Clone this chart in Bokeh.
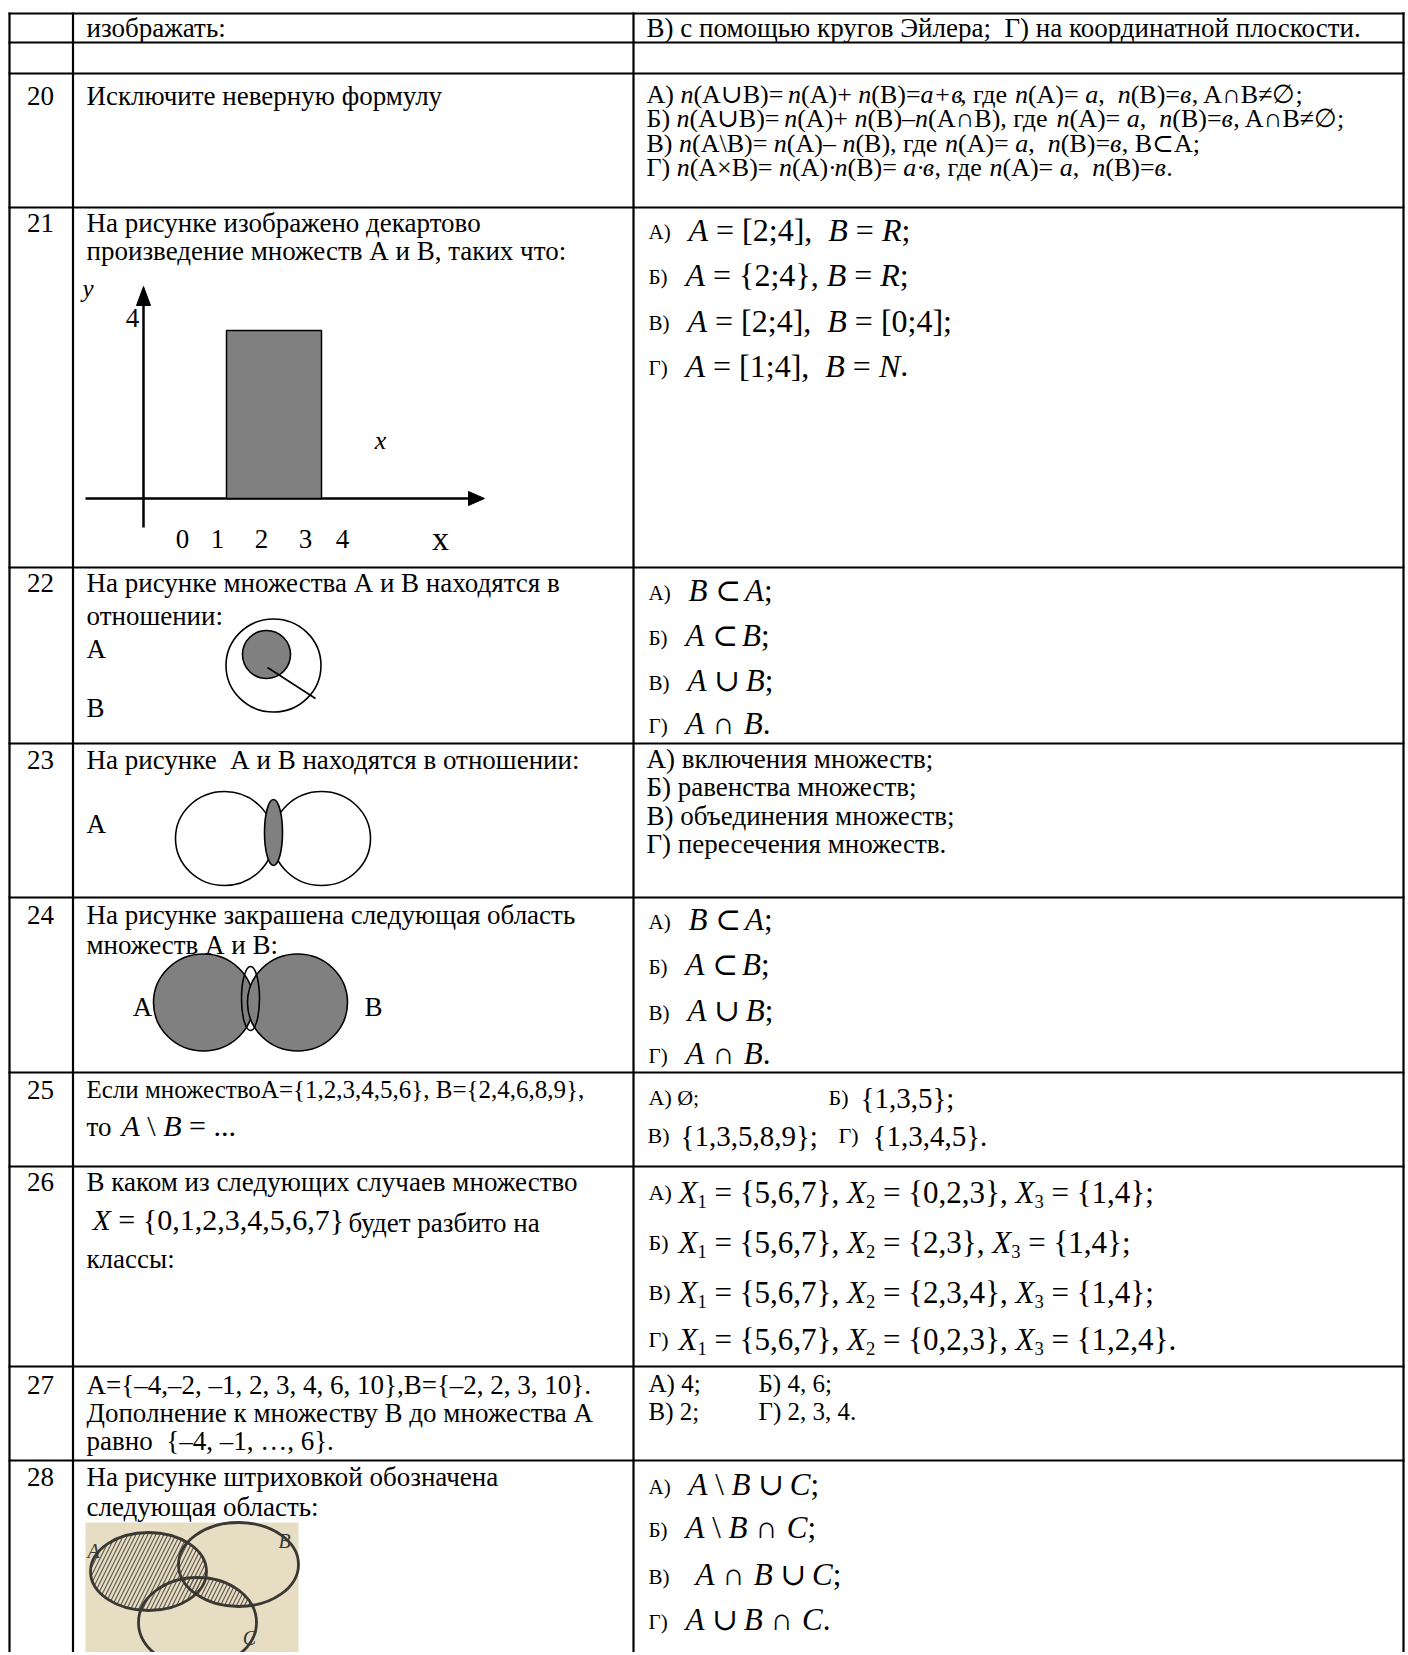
import re
import numpy as np
from bokeh.plotting import figure
from bokeh.models import Range1d, ColumnDataSource
from bokeh.embed import file_html
from bokeh.resources import INLINE
from bokeh.core.properties import value

# ---------------- content ----------------
row_numbers = ["20", "21", "22", "23", "24", "25", "26", "27", "28"]
top_left = "изображать:"
top_right = "В) с помощью кругов Эйлера;  Г) на координатной плоскости."
q20 = ["Исключите неверную формулу"]
q21 = ["На рисунке изображено декартово", "произведение множеств А и В, таких что:"]
q22 = ["На рисунке множества А и В находятся в", "отношении:"]
q23 = ["На рисунке  А и В находятся в отношении:"]
q24 = ["На рисунке закрашена следующая область", "множеств А и В:"]
q25 = ["Если множествоA={1,2,3,4,5,6}, B={2,4,6,8,9},", "то", "*A* \\ *B* = ..."]
q26 = ["В каком из следующих случаев множество", "*X* = {0,1,2,3,4,5,6,7}", "будет разбито на", "классы:"]
q27 = ["A={–4,–2, –1, 2, 3, 4, 6, 10},B={–2, 2, 3, 10}.",
       "Дополнение к множеству В до множества А",
       "равно  {–4, –1, …, 6}."]
q28 = ["На рисунке штриховкой обозначена", "следующая область:"]

a20 = ["А) *n*(A∪B)= *n*(A)+ *n*(B)=*a+в*, где *n*(A)= *a*,  *n*(B)=*в*, A∩B≠∅;",
       "Б) *n*(A∪B)= *n*(A)+ *n*(B)–*n*(A∩B), где *n*(A)= *a*,  *n*(B)=*в*, A∩B≠∅;",
       "В) *n*(A\\B)= *n*(A)– *n*(B), где *n*(A)= *a*,  *n*(B)=*в*, B⊂A;",
       "Г) *n*(A×B)= *n*(A)·*n*(B)= *a*·*в*, где *n*(A)= *a*,  *n*(B)=*в*."]
labels = ["А)", "Б)", "В)", "Г)"]
a21 = ["*A* = [2;4],  *B* = *R*;", "*A* = {2;4}, *B* = *R*;",
       "*A* = [2;4],  *B* = [0;4];", "*A* = [1;4],  *B* = *N*."]
a22 = ["*B* ⊂ *A*;", "*A* ⊂ *B*;", "*A* ∪ *B*;", "*A* ∩ *B*."]
a23 = ["А) включения множеств;", "Б) равенства множеств;",
       "В) объединения множеств;", "Г) пересечения множеств."]
a24 = a22
a25 = [("А) Ø;", ""), ("Б)", "{1,3,5};"), ("В)", "{1,3,5,8,9};"), ("Г)", "{1,3,4,5}.")]
a26 = ["*X*~1~ = {5,6,7}, *X*~2~ = {0,2,3}, *X*~3~ = {1,4};",
       "*X*~1~ = {5,6,7}, *X*~2~ = {2,3}, *X*~3~ = {1,4};",
       "*X*~1~ = {5,6,7}, *X*~2~ = {2,3,4}, *X*~3~ = {1,4};",
       "*X*~1~ = {5,6,7}, *X*~2~ = {0,2,3}, *X*~3~ = {1,2,4}."]
a27 = ["А) 4;", "Б) 4, 6;", "В) 2;", "Г) 2, 3, 4."]
a28 = ["*A* \\ *B* ∪ *C*;", "*A* \\ *B* ∩ *C*;", "*A* ∩ *B* ∪ *C*;", "*A* ∪ *B* ∩ *C*."]
axis_ticks = ["0", "1", "2", "3", "4"]

# ---------------- helpers ----------------
FONT = "'Liberation Serif', 'DejaVu Serif', serif"
REG = {c: 0.5 for c in "0123456789"}
REG.update({' ': 0.25, '\u00a0': 0.25, '!': 0.333, '(': 0.333, ')': 0.333, '+': 0.564, ',': 0.25,
            '-': 0.333, '.': 0.25, '/': 0.278, ':': 0.278, ';': 0.278, '=': 0.564, '[': 0.333,
            ']': 0.333, '{': 0.48, '}': 0.48, '\\': 0.278, '–': 0.5, '…': 1.0, '·': 0.25,
            '×': 0.564, '∪': 0.77, '∩': 0.77, '⊂': 0.71, '≠': 0.549, '∅': 0.71, 'Ø': 0.722,
            'A': 0.722, 'B': 0.667, 'C': 0.667, 'N': 0.722, 'R': 0.667, 'X': 0.722,
            'a': 0.444, 'n': 0.5, 'x': 0.5, 'y': 0.5,
            'А': 0.722, 'Б': 0.574, 'В': 0.667, 'Г': 0.578, 'Д': 0.682, 'Е': 0.611, 'И': 0.722,
            'К': 0.667, 'Н': 0.722, 'Э': 0.66, 'Х': 0.722,
            'а': 0.444, 'б': 0.509, 'в': 0.472, 'г': 0.41, 'д': 0.509, 'е': 0.444, 'ж': 0.691,
            'з': 0.395, 'и': 0.535, 'й': 0.535, 'к': 0.486, 'л': 0.499, 'м': 0.633, 'н': 0.535,
            'о': 0.5, 'п': 0.535, 'р': 0.5, 'с': 0.444, 'т': 0.437, 'у': 0.5, 'ф': 0.648,
            'х': 0.5, 'ц': 0.535, 'ч': 0.503, 'ш': 0.77, 'щ': 0.77, 'ъ': 0.517, 'ы': 0.672,
            'ь': 0.456, 'э': 0.429, 'ю': 0.747, 'я': 0.46})
ITA = dict(REG)
ITA.update({'A': 0.611, 'B': 0.611, 'C': 0.667, 'N': 0.667, 'R': 0.611, 'X': 0.611,
            'a': 0.5, 'n': 0.5, 'в': 0.45, 'x': 0.444, 'y': 0.444})


def tw(s, size, italic=False):
    t = ITA if italic else REG
    return sum(t.get(ch, 0.55) for ch in s) * size


T = dict(x=[], y=[], text=[], size=[], style=[], color=[])
C = dict(x=[], y=[], text=[], size=[], style=[], color=[])


def put(x, y, s, size, style="normal", color="black", center=False):
    lead = len(s) - len(s.lstrip(' '))
    s2 = s.strip(' ')
    if not s2:
        return
    s2 = s2.replace("  ", " \u00a0")
    d = C if center else T
    d["x"].append(x + (0 if center else tw(' ' * lead, size)))
    d["y"].append(y)
    d["text"].append(s2)
    d["size"].append("%.1fpx" % size)
    d["style"].append(style)
    d["color"].append(color)


TOK = re.compile(r'(\*[^*]+\*|~[^~]+~)')


def rich(x, y, s, size):
    for part in TOK.split(s):
        if not part:
            continue
        if part.startswith('*'):
            t, st, sz, dy = part[1:-1], 'italic', size, 0
        elif part.startswith('~'):
            t, st, sz, dy = part[1:-1], 'normal', size * 0.6, size * 0.3
        else:
            t, st, sz, dy = part, 'normal', size, 0
        put(x, y + dy, t, sz, st)
        x += tw(t, sz, st == 'italic')
    return x


# ---------------- figure ----------------
W, H = 1406, 1652
p = figure(width=W, height=H, x_range=Range1d(0, W), y_range=Range1d(H, 0),
           output_backend="svg", toolbar_location=None, min_border=0,
           x_axis_location=None, y_axis_location=None, outline_line_color=None)
p.grid.visible = False
p.background_fill_color = "white"
p.border_fill_color = "white"

# table lines
hlines = [13, 42, 73, 207, 567, 743, 897, 1072, 1166, 1366, 1460]
vlines = [9, 72.5, 633, 1403]
p.segment(x0=[8] * len(hlines), x1=[1404] * len(hlines), y0=hlines, y1=hlines,
          line_color="black", line_width=2.2)
p.segment(x0=vlines, x1=vlines, y0=[12] * 4, y1=[1660] * 4, line_color="black", line_width=2.2)

BODY = 27
LX = 86
RX = 646

# row numbers
num_y = [95, 222, 582, 759, 914, 1089, 1181, 1384, 1476]
for n, y in zip(row_numbers, num_y):
    put(40, y, n, BODY, center=True)

# top rows
put(LX, 27, top_left, BODY)
put(RX, 27, top_right, BODY)

# row 20
put(LX, 95, q20[0], BODY)
for i, s in enumerate(a20):
    rich(RX, 94 + 24.3 * i, s, 26)

# row 21
put(LX, 222, q21[0], BODY)
put(LX, 250, q21[1], BODY)
for lab, s, y, mx in zip(labels, a21, [229, 274, 320, 365], [688, 685, 687, 685]):
    put(648, y + 2, lab, 21)
    rich(mx, y, s, 32)

# drawing 21
put(82, 288, "y", 25, "italic")
p.segment(x0=[143, 85], y0=[527, 498], x1=[143, 470], y1=[300, 498], line_width=2.5, line_color="black")
p.patches(xs=[[136, 150, 143], [468, 468, 484]], ys=[[305, 305, 286], [491, 505, 498]],
          fill_color="black", line_color="black")
p.quad(left=[226], right=[321], top=[330], bottom=[498], fill_color="#808080",
       line_color="black", line_width=1.5)
put(132, 317, "4", BODY, center=True)
put(380, 440, "x", 26, "italic", center=True)
for t, x in zip(axis_ticks, [182, 217, 261, 305, 342]):
    put(x, 538, t, BODY, center=True)
put(440, 538, "x", 34, center=True)

# row 22
put(LX, 582, q22[0], BODY)
put(LX, 615, q22[1], BODY)
put(LX, 648, "А", BODY)
put(LX, 707, "В", BODY)
p.ellipse(x=[273], y=[665], width=[95], height=[93], fill_color=None, line_color="black", line_width=1.6)
p.ellipse(x=[266], y=[654], width=[48], height=[48], fill_color="#808080", line_color="black", line_width=1.6)
p.segment(x0=[267], y0=[667], x1=[315], y1=[698], line_color="black", line_width=1.6)
for lab, s, y, mx in zip(labels, a22, [590, 635, 680, 723], [688, 685, 687, 685]):
    put(648, y + 2, lab, 21)
    rich(mx, y, s, 31)

# row 23
put(LX, 759, q23[0], BODY)
put(LX, 823, "А", BODY)
p.ellipse(x=[224, 321], y=[838, 838], width=[98, 98], height=[94, 94], fill_color=None,
          line_color="black", line_width=1.6)
p.ellipse(x=[273], y=[832], width=[18], height=[66], fill_color="#808080", line_color="black", line_width=1.6)
for i, s in enumerate(a23):
    put(RX, 758 + 28.6 * i, s, BODY)

# row 24
put(LX, 914, q24[0], BODY)
put(LX, 944, q24[1], BODY)
p.ellipse(x=[203, 297], y=[1002, 1002], width=[100, 100], height=[97, 97], fill_color="#808080",
          line_color="black", line_width=1.6)
p.ellipse(x=[250], y=[998], width=[18], height=[64], fill_color=None, line_color="black", line_width=1.6)
put(142, 1006, "А", BODY, center=True)
put(373, 1006, "В", BODY, center=True)
for lab, s, y, mx in zip(labels, a24, [919, 964, 1010, 1053], [688, 685, 687, 685]):
    put(648, y + 2, lab, 21)
    rich(mx, y, s, 31)

# row 25
put(LX, 1089, q25[0], 25)
put(LX, 1126, q25[1], BODY)
rich(121, 1125, q25[2], 30)
put(648, 1097, a25[0][0], 22)
put(828, 1097, a25[1][0], 22)
put(860, 1097, a25[1][1], 29)
put(647, 1135, a25[2][0], 22)
put(680, 1135, a25[2][1], 29)
put(838, 1135, a25[3][0], 22)
put(872, 1135, a25[3][1], 29)

# row 26
put(LX, 1181, q26[0], BODY)
rich(92, 1219, q26[1], 30)
put(348, 1222, q26[2], BODY)
put(LX, 1258, q26[3], BODY)
for lab, s, y in zip(labels, a26, [1192, 1242, 1292, 1339]):
    put(648, y, lab, 22)
    rich(678, y, s, 31)

# row 27
for i, s in enumerate(q27):
    put(LX, 1384 + 28 * i, s, BODY)
put(648, 1383, a27[0], 25)
put(758, 1383, a27[1], 25)
put(648, 1411, a27[2], 25)
put(758, 1411, a27[3], 25)

# row 28
put(LX, 1476, q28[0], BODY)
put(LX, 1506, q28[1], BODY)
for lab, s, y, mx in zip(labels, a28, [1484, 1527, 1574, 1619], [688, 685, 695, 685]):
    put(648, y + 2, lab, 21)
    rich(mx, y, s, 31)

# scanned picture (row 28)
p.quad(left=[85], right=[298], top=[1522], bottom=[1660], fill_color="#e6ddc3", line_color=None)
ell = {"A": (148, 1571, 58, 39), "B": (238, 1564, 60, 42), "C": (197, 1622, 59, 45)}


def inside(px, py, e):
    cx, cy, rx, ry = e
    return ((px - cx) / rx) ** 2 + ((py - cy) / ry) ** 2 <= 1.0


th = np.linspace(0, 2 * np.pi, 720, endpoint=False)
pts = []
for a, b in (("B", "C"), ("C", "B")):
    cx, cy, rx, ry = ell[a]
    xs = cx + rx * np.cos(th)
    ys = cy + ry * np.sin(th)
    for X, Y in zip(xs, ys):
        if inside(X, Y, ell[b]):
            pts.append((X, Y))
pts = np.array(pts)
mx_, my_ = pts[:, 0].mean(), pts[:, 1].mean()
order = np.argsort(np.arctan2(pts[:, 1] - my_, pts[:, 0] - mx_))
pts = pts[order]
HATCH = dict(hatch_pattern="/", hatch_color="#5c584e", hatch_weight=1.2, hatch_scale=8)
p.patch(x=pts[:, 0], y=pts[:, 1], fill_color=None, line_color=None, **HATCH)
ax, ay, arx, ary = ell["A"]
p.ellipse(x=[ax], y=[ay], width=[2 * arx], height=[2 * ary], fill_color=None, line_color=None, **HATCH)
for k in ("A", "B", "C"):
    cx, cy, rx, ry = ell[k]
    p.ellipse(x=[cx], y=[cy], width=[2 * rx], height=[2 * ry], fill_color=None,
              line_color="#3a3833", line_width=2.8)
put(93, 1550, "A", 20, "italic", "#3a3833", center=True)
put(284, 1540, "B", 20, "italic", "#3a3833", center=True)
put(249, 1637, "C", 20, "italic", "#3a3833", center=True)

# ---------------- texts ----------------
p.text(x="x", y="y", text="text", source=ColumnDataSource(T), text_font=value(FONT),
       text_font_size="size", text_font_style="style", text_color="color",
       text_baseline="middle", text_align="left")
p.text(x="x", y="y", text="text", source=ColumnDataSource(C), text_font=value(FONT),
       text_font_size="size", text_font_style="style", text_color="color",
       text_baseline="middle", text_align="center")

open("out.html", "w").write(file_html(p, INLINE))
